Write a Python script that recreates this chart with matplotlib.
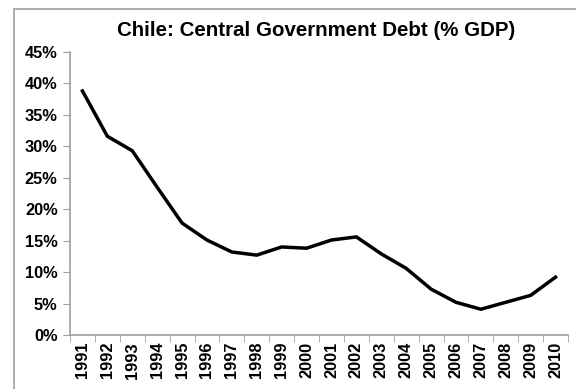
import matplotlib.pyplot as plt
import matplotlib.ticker as mticker
from matplotlib.patches import Rectangle
import numpy as np

plt.rcParams['font.family'] = ['Liberation Sans', 'DejaVu Sans']

years = [str(y) for y in range(1991, 2011)]
debt = [38.8, 31.6, 29.3, 23.5, 17.8, 15.1, 13.2, 12.7, 14.0, 13.8,
        15.1, 15.6, 12.9, 10.6, 7.3, 5.2, 4.1, 5.2, 6.3, 9.2]
yticks = [0, 5, 10, 15, 20, 25, 30, 35, 40, 45]

fig = plt.figure(figsize=(5.76, 3.89), dpi=100)
# chart area frame (picture is cropped at the left)
fig.patches.append(Rectangle((14 / 576, -0.01), 1.0, 1 - 9 / 389 + 0.01,
                             transform=fig.transFigure, fill=False,
                             edgecolor='#a0a0a0', linewidth=1.2))

ax = fig.add_axes([70 / 576, 1 - 335 / 389, (568 - 70) / 576, (335 - 52) / 389])
x = np.arange(len(years))
ax.plot(x, debt, color='black', linewidth=2.5, solid_joinstyle='miter')

ax.set_xlim(-0.5, len(years) - 0.5)
ax.set_ylim(0, 45)
ax.set_yticks(yticks)
ax.yaxis.set_major_formatter(mticker.FuncFormatter(lambda v, p: '%d%%' % v))
ax.set_xticks(x)
ax.set_xticklabels(years, rotation=90)
ax.set_xticks(np.arange(-0.5, len(years)), minor=True)
ax.tick_params(axis='x', which='major', length=0, pad=5)
ax.tick_params(axis='x', which='minor', length=5, color='#a0a0a0', direction='out')
ax.tick_params(axis='y', length=5, color='#a0a0a0', direction='out', pad=4)
for lab in ax.get_xticklabels() + ax.get_yticklabels():
    lab.set_fontweight('bold')
    lab.set_fontsize(11.8)

for s in ['top', 'right']:
    ax.spines[s].set_visible(False)
for s in ['left', 'bottom']:
    ax.spines[s].set_color('#a0a0a0')
    ax.spines[s].set_linewidth(1.2)

fig.text(316 / 576, 1 - 30 / 389, 'Chile: Central Government Debt (% GDP)',
         ha='center', va='center', fontsize=14.8, fontweight='bold')

fig.savefig('out.png', dpi=100)
